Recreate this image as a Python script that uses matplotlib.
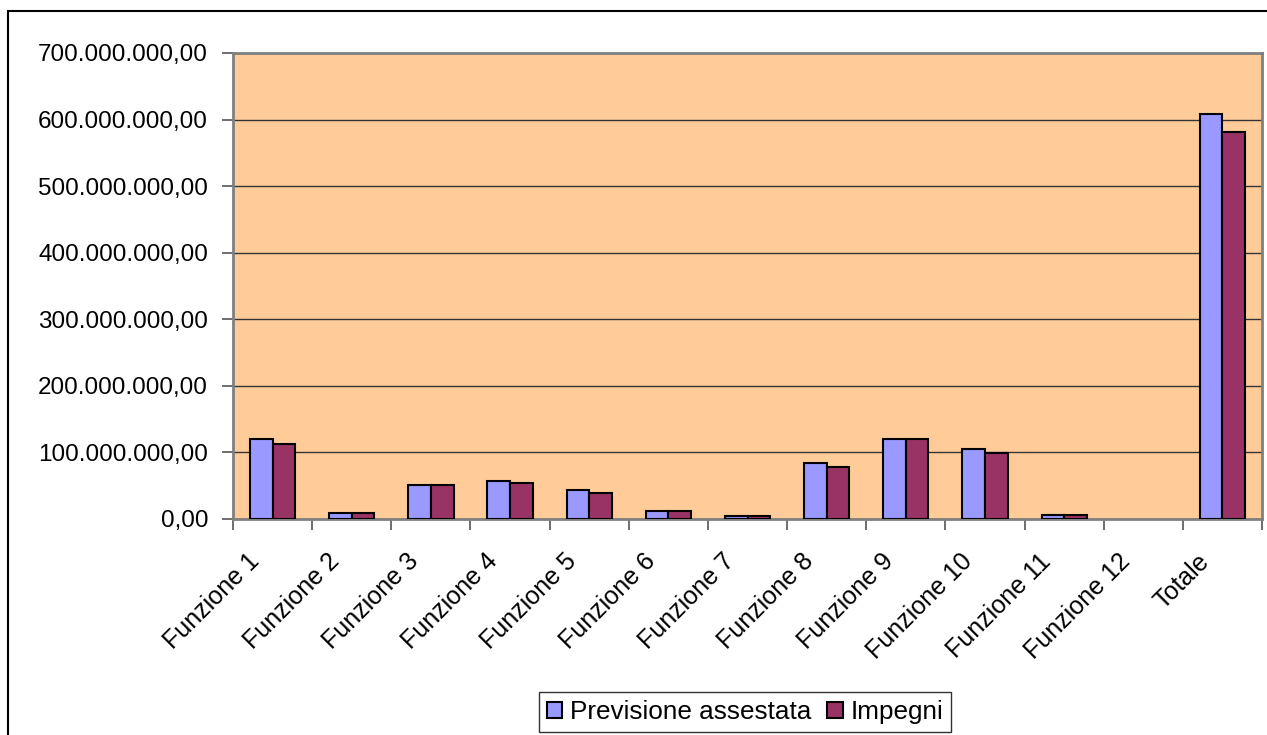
import matplotlib
matplotlib.use("Agg")
import matplotlib.pyplot as plt
from matplotlib.patches import Rectangle
from matplotlib.ticker import FuncFormatter, FixedLocator
import matplotlib.transforms as mtransforms
import numpy as np

plt.rcParams['font.family'] = ['Liberation Sans', 'DejaVu Sans']

categories = ["Funzione 1", "Funzione 2", "Funzione 3", "Funzione 4", "Funzione 5",
              "Funzione 6", "Funzione 7", "Funzione 8", "Funzione 9", "Funzione 10",
              "Funzione 11", "Funzione 12", "Totale"]
previsione = [119.5e6, 8.0e6, 51.0e6, 57.0e6, 42.5e6, 12.0e6, 3.5e6, 84.0e6,
              119.5e6, 105.0e6, 6.0e6, 0.0, 609.0e6]
impegni = [111.6e6, 8.5e6, 51.0e6, 54.0e6, 39.0e6, 12.0e6, 3.5e6, 78.0e6,
           119.5e6, 99.0e6, 6.0e6, 0.0, 582.0e6]
series_names = ["Previsione assestata", "Impegni"]
colors = ["#9999FF", "#993366"]

W, H = 1267, 735
fig = plt.figure(figsize=(W / 100, H / 100), dpi=100)
fig.patch.set_facecolor("white")

# outer chart border
fig.patches.append(Rectangle((8 / W, -0.1), 1.2, (735 - 11) / H + 0.1,
                             transform=fig.transFigure, fill=False,
                             edgecolor="black", linewidth=1.5, zorder=0))

ax = fig.add_axes([233 / W, (H - 518.7) / H, (1262 - 233) / W, (518.7 - 53) / H])
ax.set_facecolor("#FFCC99")

x = np.arange(len(categories))
bw = 1 / 3.5
for offset, vals, col, name in [(-bw / 2, previsione, colors[0], series_names[0]),
                                 (bw / 2, impegni, colors[1], series_names[1])]:
    bars = ax.bar(x + offset, vals, width=bw, color=col, edgecolor="black",
                  linewidth=1.5, label=name, zorder=3)
    for b, v in zip(bars, vals):
        if v == 0:
            b.set_linewidth(0)

ax.set_xlim(-0.5, len(categories) - 0.5)
ax.set_ylim(0, 700e6)
ax.set_yticks(np.arange(0, 700e6 + 1, 100e6))


def it_fmt(v, pos):
    s = f"{v:,.2f}"
    return s.replace(",", "X").replace(".", ",").replace("X", ".")


ax.yaxis.set_major_formatter(FuncFormatter(it_fmt))
ax.yaxis.grid(True, color="#333333", linewidth=1.0, zorder=1)
ax.set_axisbelow(True)

# category ticks between groups, labels at centers
ax.xaxis.set_major_locator(FixedLocator(np.arange(-0.5, len(categories), 1.0)))
ax.xaxis.set_major_formatter(FuncFormatter(lambda v, p: ""))
ax.xaxis.set_minor_locator(FixedLocator(x))
ax.set_xticklabels(categories, minor=True)
ax.tick_params(axis="x", which="minor", length=0, pad=22, labelsize=18)
ax.tick_params(axis="x", which="major", length=8, width=1.2, color="#555555", direction="out")
ax.tick_params(axis="y", length=8, width=1.2, color="#555555", labelsize=17.5, pad=10)
shift = mtransforms.ScaledTranslation(-25 / 100, 0, fig.dpi_scale_trans)
for lbl in ax.get_xticklabels(minor=True):
    lbl.set_rotation(45)
    lbl.set_ha("right")
    lbl.set_rotation_mode("anchor")
    lbl.set_transform(lbl.get_transform() + shift)

for s in ax.spines.values():
    s.set_color("#808080")
    s.set_linewidth(2)

leg = fig.legend(loc="center", bbox_to_anchor=(745 / W, (H - 712) / H), ncol=2,
                 fontsize=18.8, frameon=True, fancybox=False, edgecolor="black",
                 handlelength=0.6, handleheight=0.6, handletextpad=0.3,
                 columnspacing=0.6, borderpad=0.3, borderaxespad=0)
leg.get_frame().set_linewidth(1.0)

fig.savefig("out.png", dpi=100)
